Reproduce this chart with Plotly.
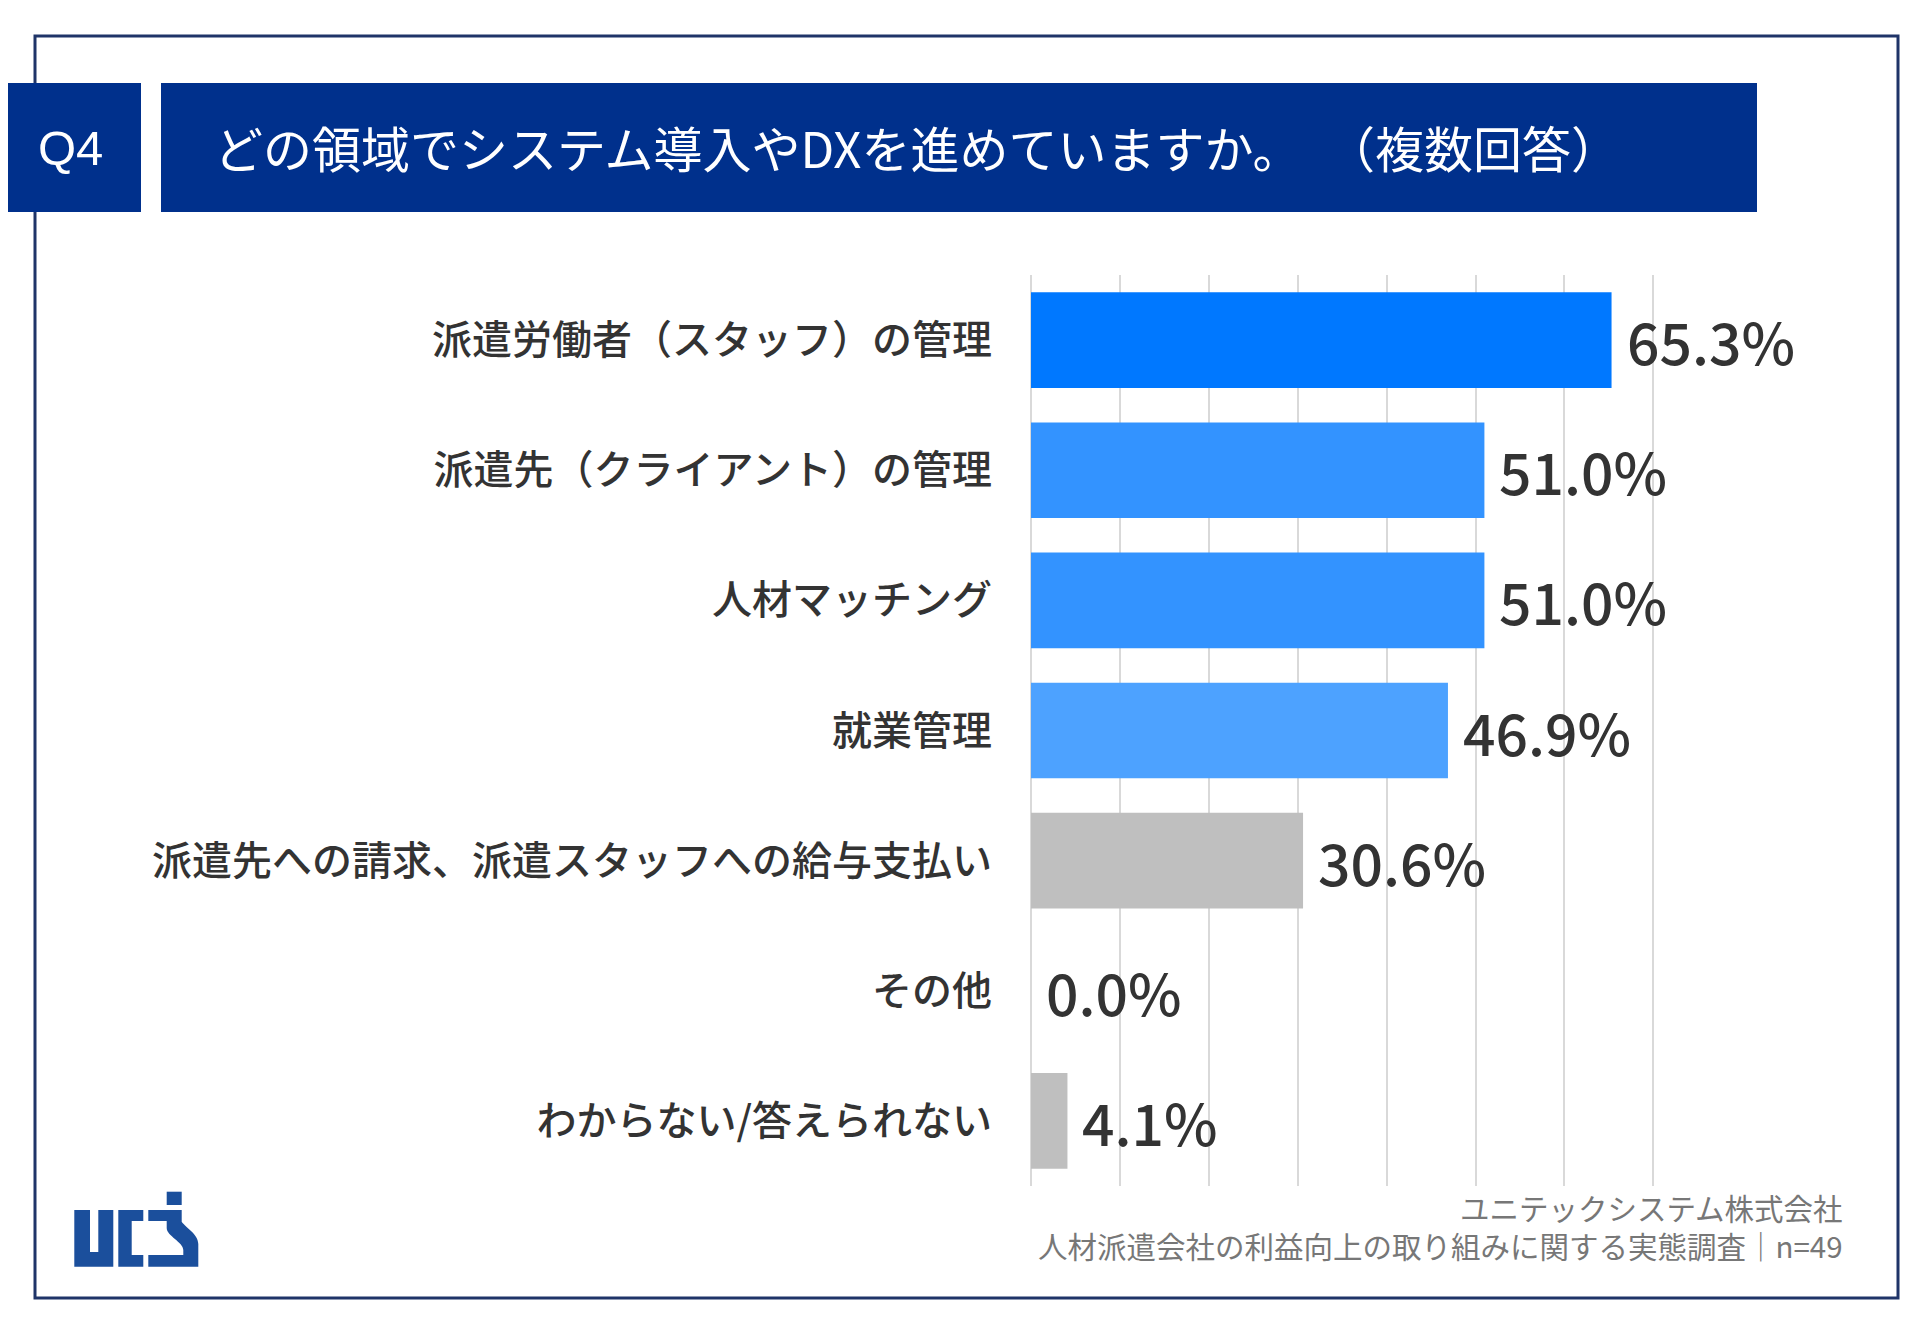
import plotly.graph_objects as go

# データ
categories = [
    "派遣労働者（スタッフ）の管理",
    "派遣先（クライアント）の管理",
    "人材マッチング",
    "就業管理",
    "派遣先への請求、派遣スタッフへの給与支払い",
    "その他",
    "わからない/答えられない",
]
values = [65.3, 51.0, 51.0, 46.9, 30.6, 0.0, 4.1]

title_q = "Q4"
title_text = "どの領域でシステム導入やDXを進めていますか。\u2002（複数回答）"
footer_lines = [
    "ユニテックシステム株式会社",
    "人材派遣会社の利益向上の取り組みに関する実態調査｜n=49",
]

# スタイル
bar_colors = ["#0078FF", "#3393FF", "#3393FF", "#4DA2FF", "#BFBFBF", "#BFBFBF", "#BFBFBF"]
NAVY = "#00308C"
TEXT = "#333333"
FONT = "Noto Sans CJK JP"

W, H = 1920, 1329
OFF = 8  # ページの余白分
L, R, T, B = 1031 - OFF, 264 + OFF, 275 - OFF, 143 + OFF


def px(x, y):
    """画面のピクセル座標 -> paper座標"""
    x, y = x - OFF, y - OFF
    return (x - L) / (W - L - R), (H - B - y) / (H - T - B)


def rect(x0, y0, x1, y1, **kw):
    a, b = px(x0, y0)
    c, d = px(x1, y1)
    return dict(type="rect", xref="paper", yref="paper", x0=a, y0=b, x1=c, y1=d, **kw)


def path(cmds, **kw):
    out = []
    for cmd in cmds:
        if cmd == "Z":
            out.append("Z")
            continue
        op, pts = cmd[0], cmd[1:]
        s = []
        for i in range(0, len(pts), 2):
            a, b = px(pts[i], pts[i + 1])
            s.append(f"{a:.5f},{b:.5f}")
        out.append(op + " ".join(s))
    return dict(type="path", xref="paper", yref="paper", path=" ".join(out), **kw)


fig = go.Figure()
fig.add_trace(go.Bar(
    x=values,
    y=categories,
    orientation="h",
    marker=dict(color=bar_colors, line=dict(width=0)),
    hoverinfo="skip",
))

shapes = [
    rect(35, 36, 1898, 1298, line=dict(color="#1f3468", width=3), fillcolor="rgba(0,0,0,0)", layer="below"),
    rect(0, 83, 141, 212, line=dict(width=0), fillcolor=NAVY),
    rect(161, 83, 1757, 212, line=dict(width=0), fillcolor=NAVY),
]

# ロゴ (ucs)
LOGO = "#1b4f9c"
logo_kw = dict(line=dict(width=0), fillcolor=LOGO)
shapes += [
    # u
    path([("M", 74.3, 1210), ("L", 90, 1210), ("L", 90, 1252), ("L", 98.3, 1252), ("L", 98.3, 1210),
          ("L", 113.3, 1210), ("L", 113.3, 1266.7), ("L", 74.3, 1266.7), "Z"], **logo_kw),
    # c
    path([("M", 118.3, 1210), ("L", 143.3, 1210), ("L", 143.3, 1221), ("L", 131.7, 1221), ("L", 131.7, 1255),
          ("L", 143.3, 1255), ("L", 143.3, 1266.7), ("L", 118.3, 1266.7), "Z"], **logo_kw),
    # s
    path([("M", 148.3, 1210), ("L", 181.7, 1210), ("L", 181.7, 1221.7),
          ("C", 186, 1228, 198.3, 1234, 198.3, 1244), ("L", 198.3, 1266.7), ("L", 148.3, 1266.7),
          ("L", 148.3, 1255), ("L", 183.3, 1255), ("L", 183.3, 1250),
          ("C", 183.3, 1242, 166.7, 1236, 166.7, 1228), ("L", 166.7, 1221), ("L", 148.3, 1221), "Z"],
         **logo_kw),
    rect(166.7, 1191.7, 181.7, 1205, **logo_kw),
]

annotations = []
# 値ラベル
for v, c in zip(values, categories):
    annotations.append(dict(
        x=v, y=c, xref="x", yref="y", text=f"{v:.1f}%", showarrow=False,
        xanchor="left", yanchor="middle", xshift=13,
        font=dict(family=FONT, size=57, color=TEXT, weight=500),
    ))

qx, qy = px(70, 148)
annotations.append(dict(x=qx, y=qy, xref="paper", yref="paper", text=title_q, showarrow=False,
                        xanchor="center", yanchor="middle",
                        font=dict(family="Liberation Sans", size=49, color="white")))
tx, ty = px(212, 146)
annotations.append(dict(x=tx, y=ty, xref="paper", yref="paper", text=title_text, showarrow=False,
                        xanchor="left", yanchor="middle",
                        font=dict(family=FONT, size=49, color="white", weight=400)))
for txt, yy in zip(footer_lines, [1207, 1245]):
    fx, fy = px(1845, yy)
    annotations.append(dict(x=fx, y=fy, xref="paper", yref="paper", text=txt, showarrow=False,
                            xanchor="right", yanchor="middle",
                            font=dict(family=FONT, size=29.5, color="#777777")))

fig.update_layout(
    width=W, height=H,
    margin=dict(l=L, r=R, t=T, b=B, pad=0),
    paper_bgcolor="white",
    plot_bgcolor="white",
    showlegend=False,
    bargap=0.265,
    shapes=shapes,
    annotations=annotations,
    xaxis=dict(range=[0, 70.3], tick0=0, dtick=10, showticklabels=False, showgrid=True,
               gridcolor="#d9d9d9", gridwidth=1.5, zeroline=True, zerolinecolor="#d9d9d9",
               zerolinewidth=1.5, showline=False, fixedrange=True),
    yaxis=dict(autorange="reversed", showgrid=False, showline=False, ticks="",
               ticklabelstandoff=38,
               tickfont=dict(family=FONT, size=40, color=TEXT, weight=500), fixedrange=True),
)

fig.write_html("out.html")
